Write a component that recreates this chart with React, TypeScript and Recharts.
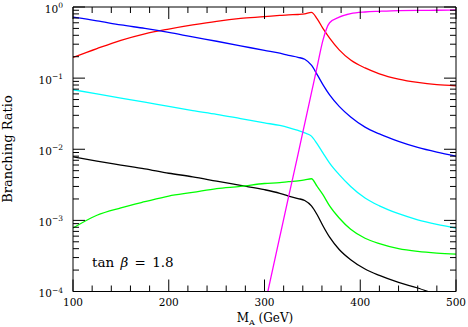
import { LineChart, Line, XAxis, YAxis } from 'recharts'

// M_A grid (GeV)
const massA = [100, 125, 150, 175, 200, 225, 250, 275, 300, 316, 325, 335, 342, 349, 355, 361, 368, 378, 390, 405, 420, 440, 460, 480, 500]

// branching ratios
const brRed = [0.195, 0.26, 0.34, 0.42, 0.49, 0.56, 0.63, 0.69, 0.73, 0.76, 0.775, 0.785, 0.8, 0.84, 0.68, 0.5, 0.366, 0.25, 0.18, 0.139, 0.115, 0.097, 0.087, 0.081, 0.078]
const brBlue = [0.72, 0.64, 0.56, 0.5, 0.44, 0.38, 0.33, 0.285, 0.245, 0.224, 0.209, 0.196, 0.184, 0.152, 0.112, 0.081, 0.058, 0.04, 0.0284, 0.0205, 0.0164, 0.0129, 0.0106, 0.0091, 0.008]
const brCyan = [0.0687, 0.06, 0.0525, 0.046, 0.04, 0.035, 0.031, 0.027, 0.0235, 0.0216, 0.0202, 0.0184, 0.017, 0.0153, 0.0119, 0.0089, 0.0064, 0.0044, 0.003, 0.00206, 0.0016, 0.00124, 0.00102, 0.00088, 0.00078]
const brBlack = [0.0078, 0.0068, 0.006, 0.0053, 0.0046, 0.0041, 0.00356, 0.0031, 0.0027, 0.0024, 0.0022, 0.00203, 0.0019, 0.0016, 0.0012, 0.00084, 0.00058, 0.00039, 0.00028, 0.000207, 0.000168, 0.000134, 0.000112, 0.00009, 0.000075]
const brGreen = [0.00078, 0.00118, 0.0015, 0.00183, 0.0022, 0.00247, 0.0028, 0.003, 0.0033, 0.0034, 0.0035, 0.0036, 0.0037, 0.00385, 0.003, 0.0023, 0.0016, 0.00108, 0.00075, 0.00056, 0.00047, 0.0004, 0.000366, 0.000347, 0.000336]
const brMagenta = [null, null, null, null, null, null, null, null, 0.000061, 0.00059, 0.0021, 0.0085, 0.023, 0.062, 0.145, 0.34, 0.6, 0.72, 0.805, 0.85, 0.87, 0.89, 0.895, 0.9, 0.91]

const xMajor = [100, 200, 300, 400, 500]
const yDecades = [-4, -3, -2, -1, 0]

const data = massA.map((m, i) => ({
  m,
  red: brRed[i],
  blue: brBlue[i],
  cyan: brCyan[i],
  black: brBlack[i],
  green: brGreen[i],
  magenta: brMagenta[i],
}))

const xTicks: number[] = []
for (let v = 100; v <= 500; v += 20) xTicks.push(v)

const yTicks: number[] = []
yDecades.forEach((d) => {
  if (d === 0) {
    yTicks.push(1)
    return
  }
  for (let k = 1; k <= 9; k++) yTicks.push(k * Math.pow(10, d))
})

const FONT = '"DejaVu Serif", serif'
const MAJOR = 12
const MINOR = 6

const isMajorX = (v: number) => xMajor.includes(v)
const decadeOf = (v: number) => {
  const l = Math.log10(v)
  return Math.abs(l - Math.round(l)) < 1e-6 ? Math.round(l) : null
}

function BottomTick({ x, y, payload }: any) {
  const major = isMajorX(payload.value)
  return (
    <g>
      <line x1={x} y1={y} x2={x} y2={y - (major ? MAJOR : MINOR)} stroke="#000" />
      {major && (
        <text x={x} y={y + 14} textAnchor="middle" fontFamily={FONT} fontSize={10.5} fill="#000">
          {payload.value}
        </text>
      )}
    </g>
  )
}

function TopTick({ x, y, payload }: any) {
  const major = isMajorX(payload.value)
  return <line x1={x} y1={y} x2={x} y2={y + (major ? MAJOR : MINOR)} stroke="#000" />
}

function LeftTick({ x, y, payload }: any) {
  const d = decadeOf(payload.value)
  const major = d !== null
  return (
    <g>
      <line x1={x} y1={y} x2={x + (major ? MAJOR : MINOR)} y2={y} stroke="#000" />
      {major && (
        <text x={x - 10} y={y + 5.5} textAnchor="end" fontFamily={FONT} fontSize={10.5} fill="#000">
          10
          <tspan dy={-4.5} fontSize={7.5}>
            {d === 0 ? '0' : '\u2212' + Math.abs(d as number)}
          </tspan>
        </text>
      )}
    </g>
  )
}

function RightTick({ x, y, payload }: any) {
  const major = decadeOf(payload.value) !== null
  return <line x1={x} y1={y} x2={x - (major ? MAJOR : MINOR)} y2={y} stroke="#000" />
}

const series = [
  { key: 'red', color: '#ff0000' },
  { key: 'blue', color: '#0000ff' },
  { key: 'cyan', color: '#00ffff' },
  { key: 'black', color: '#000000' },
  { key: 'green', color: '#00ff00' },
  { key: 'magenta', color: '#ff00ff' },
]

export default function App() {
  return (
    <div style={{ position: 'absolute', left: 0, top: 0, width: 468, height: 327, background: '#fff' }}>
      <LineChart width={468} height={327} data={data} margin={{ top: 0, right: 0, bottom: 0, left: 0 }}>
        <XAxis
          dataKey="m"
          type="number"
          domain={[100, 500]}
          ticks={xTicks}
          interval={0}
          tickSize={0}
          tickMargin={0}
          tickLine={false}
          tick={<BottomTick />}
          height={35.5}
          axisLine={{ stroke: '#000' }}
          allowDataOverflow
        />
        <XAxis
          xAxisId="top"
          orientation="top"
          dataKey="m"
          type="number"
          domain={[100, 500]}
          ticks={xTicks}
          interval={0}
          tickSize={0}
          tickMargin={0}
          tickLine={false}
          tick={<TopTick />}
          height={7}
          axisLine={{ stroke: '#000' }}
          allowDataOverflow
        />
        <YAxis
          scale="log"
          type="number"
          domain={[1e-4, 1]}
          ticks={yTicks}
          interval={0}
          tickSize={0}
          tickMargin={0}
          tickLine={false}
          tick={<LeftTick />}
          width={73}
          axisLine={{ stroke: '#000' }}
          allowDataOverflow
        />
        <YAxis
          yAxisId="right"
          orientation="right"
          scale="log"
          type="number"
          domain={[1e-4, 1]}
          ticks={yTicks}
          interval={0}
          tickSize={0}
          tickMargin={0}
          tickLine={false}
          tick={<RightTick />}
          width={12}
          axisLine={{ stroke: '#000' }}
          allowDataOverflow
        />
        {series.map((s) => (
          <Line
            key={s.key}
            dataKey={s.key}
            stroke={s.color}
            strokeWidth={1.3}
            dot={false}
            type="monotone"
            isAnimationActive={false}
          />
        ))}
      </LineChart>
      <div
        style={{
          position: 'absolute',
          left: -54,
          top: 141,
          width: 124,
          textAlign: 'center',
          transform: 'rotate(-90deg)',
          fontFamily: FONT,
          fontSize: 13,
          lineHeight: '16px',
        }}
      >
        Branching Ratio
      </div>
      <div
        style={{
          position: 'absolute',
          left: 200,
          top: 310,
          width: 130,
          textAlign: 'center',
          fontFamily: FONT,
          fontSize: 12,
          lineHeight: '16px',
        }}
      >
        M<sub style={{ fontSize: 8 }}>A</sub> (GeV)
      </div>
      <div
        style={{
          position: 'absolute',
          left: 92,
          top: 254,
          fontFamily: FONT,
          fontSize: 13.5,
          lineHeight: '16px',
          whiteSpace: 'pre',
          wordSpacing: 2,
        }}
      >
        {'tan '}
        <i>β</i>
        {' = 1.8'}
      </div>
    </div>
  )
}
